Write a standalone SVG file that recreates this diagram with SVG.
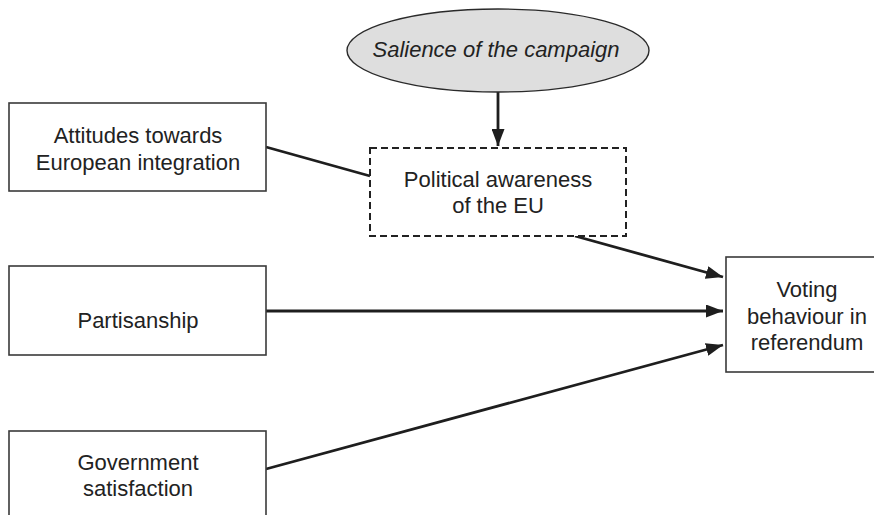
<svg xmlns="http://www.w3.org/2000/svg" width="874" height="515" viewBox="0 0 874 515">
<style>
.box{fill:#fff;stroke:#3a3a3a;stroke-width:1.6}
.dash{fill:#fff;stroke:#222;stroke-width:2;stroke-dasharray:7,4}
.ell{fill:#dedede;stroke:#2a2a2a;stroke-width:1.4}
.t{font-family:"Liberation Sans",Arial,sans-serif;font-size:22px;fill:#222;text-anchor:middle}
.it{font-style:italic}
.c{stroke:#1e1e1e;stroke-width:2.8;fill:none}
</style>
<defs>
<marker id="ah" markerUnits="userSpaceOnUse" markerWidth="18" markerHeight="13" refX="17" refY="6.5" orient="auto">
<path d="M0,0 L17,6.5 L0,13 z" fill="#1e1e1e"/>
</marker>
</defs>
<g id="connectors">
<line class="c" x1="498" y1="92" x2="498" y2="146" marker-end="url(#ah)"/>
<line class="c" x1="266" y1="147" x2="370" y2="176"/>
<line class="c" x1="575" y1="236" x2="723" y2="277" marker-end="url(#ah)"/>
<line class="c" x1="266" y1="311" x2="723" y2="311" marker-end="url(#ah)"/>
<line class="c" x1="266" y1="469" x2="723" y2="345" marker-end="url(#ah)"/>
</g>
<g id="salience">
<ellipse class="ell" cx="498" cy="50.5" rx="151" ry="41.5"/>
<text class="t it" x="496" y="57">Salience of the campaign</text>
</g>
<g id="attitudes">
<rect class="box" x="9" y="103" width="257" height="88"/>
<text class="t" x="138" y="143">Attitudes towards</text>
<text class="t" x="138" y="170">European integration</text>
</g>
<g id="awareness">
<rect class="dash" x="370" y="148" width="256" height="88"/>
<text class="t" x="498" y="187">Political awareness</text>
<text class="t" x="498" y="213">of the EU</text>
</g>
<g id="partisanship">
<rect class="box" x="9" y="266" width="257" height="89"/>
<text class="t" x="138" y="328">Partisanship</text>
</g>
<g id="government">
<rect class="box" x="9" y="431" width="257" height="100"/>
<text class="t" x="138" y="470">Government</text>
<text class="t" x="138" y="496">satisfaction</text>
</g>
<g id="voting">
<rect class="box" x="726" y="257" width="160" height="115"/>
<text class="t" x="807" y="297">Voting</text>
<text class="t" x="807" y="324">behaviour in</text>
<text class="t" x="807" y="350">referendum</text>
</g>
</svg>
